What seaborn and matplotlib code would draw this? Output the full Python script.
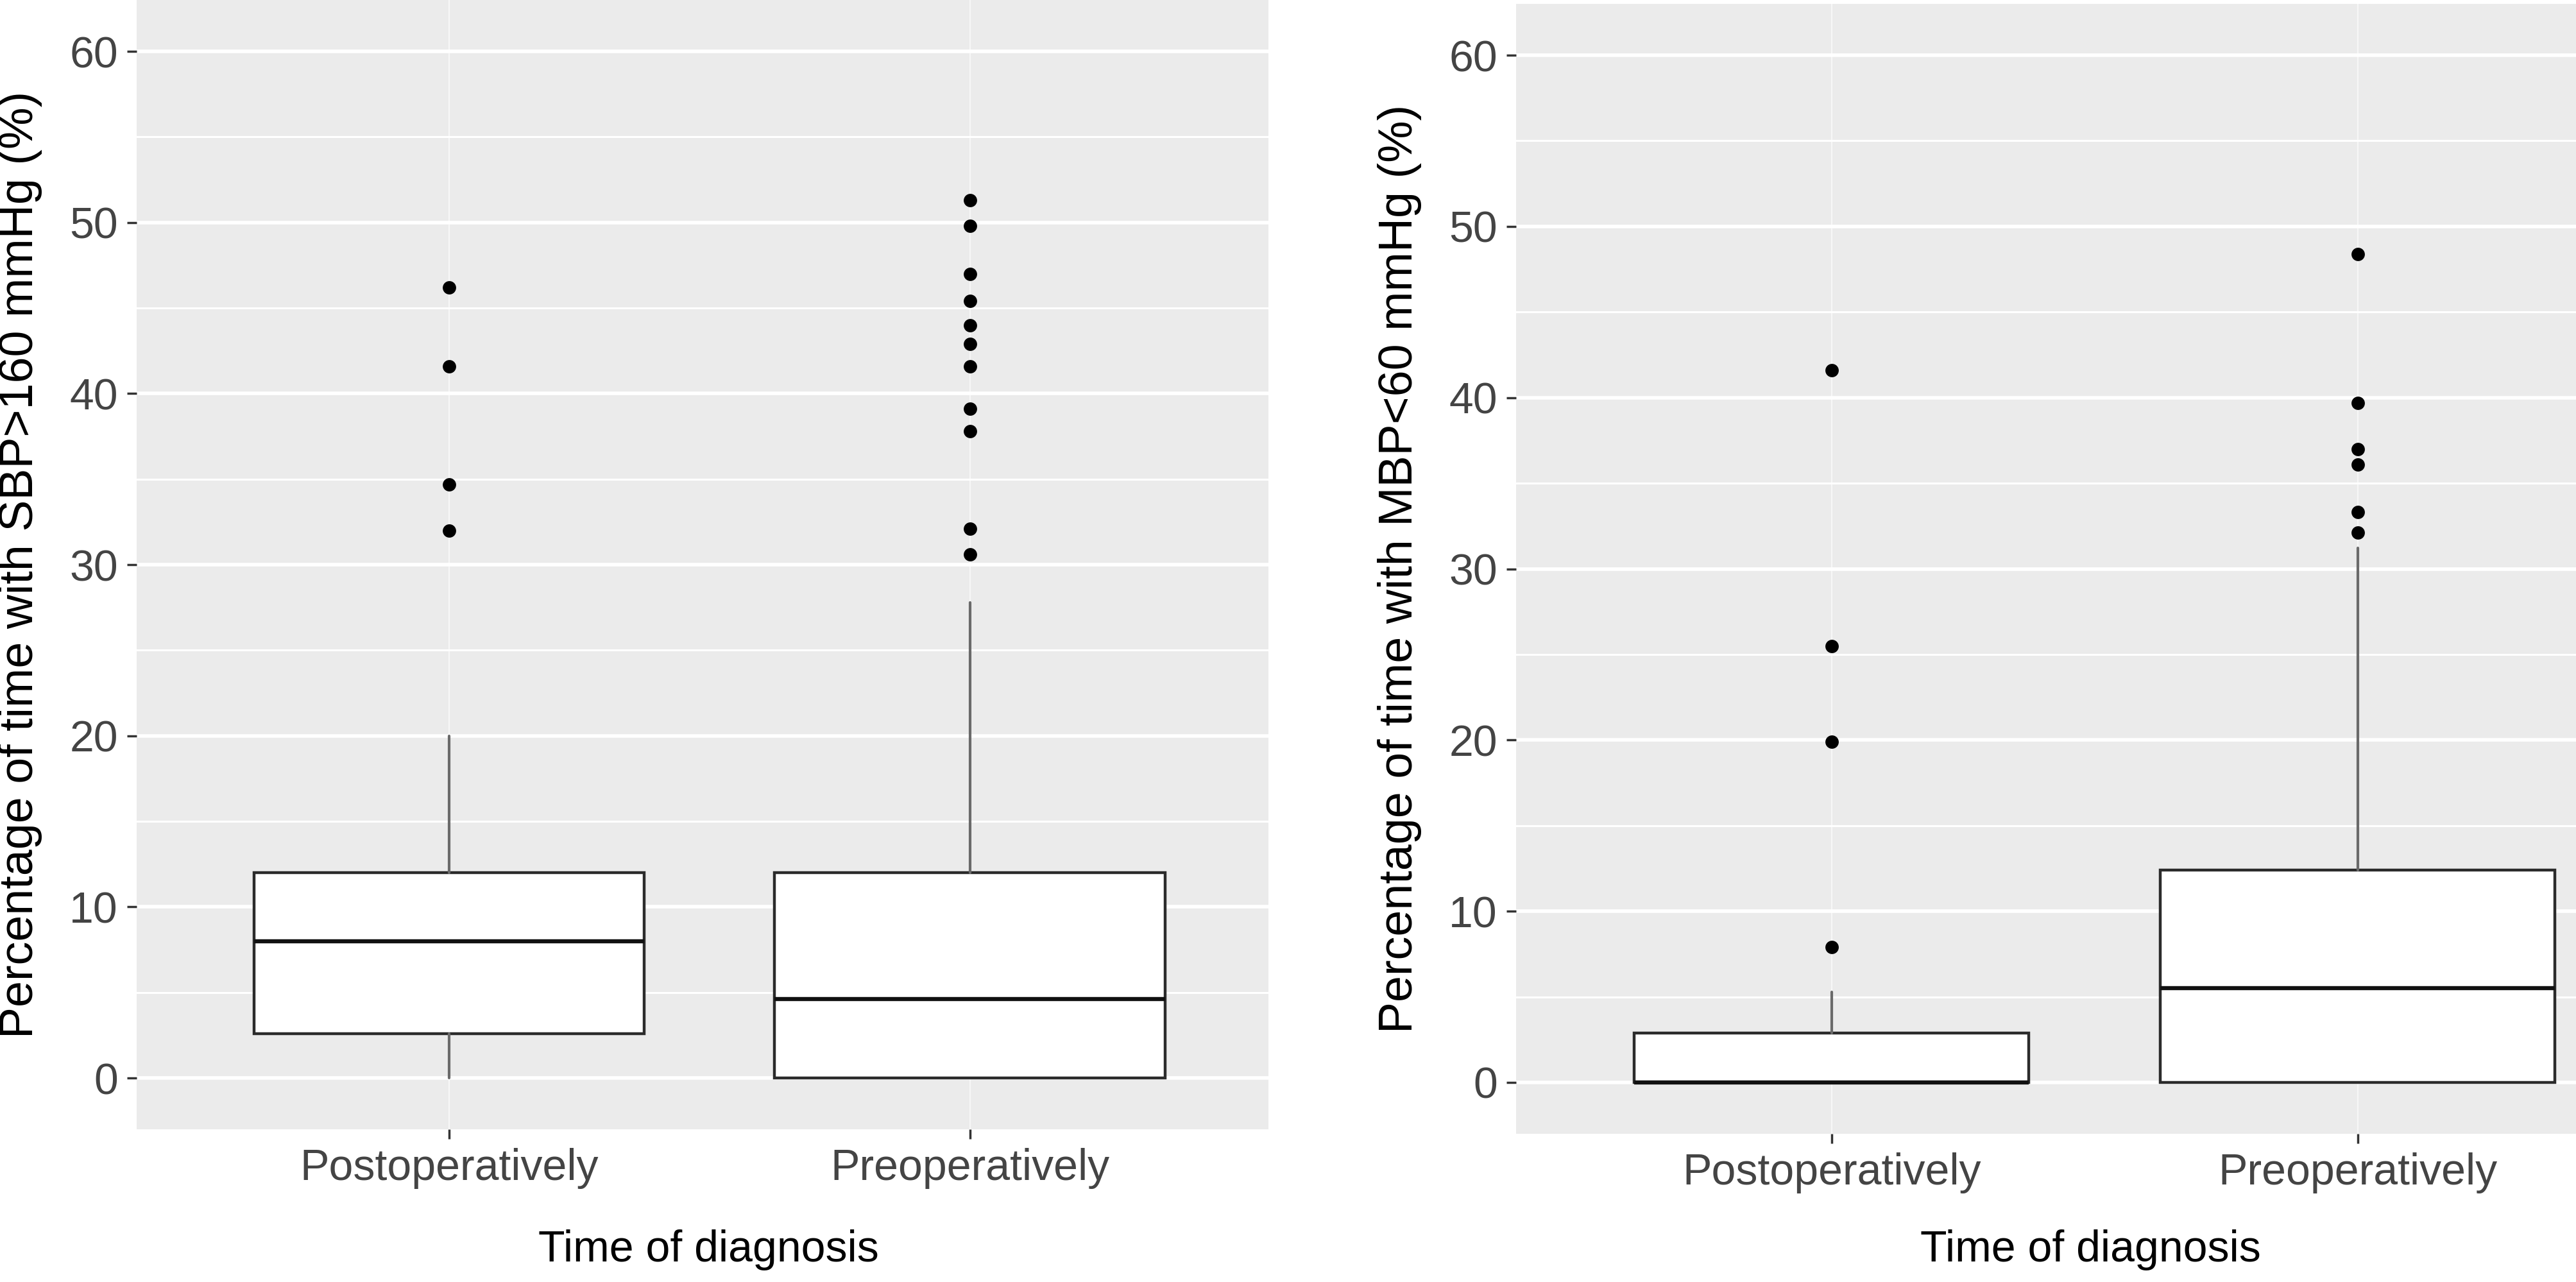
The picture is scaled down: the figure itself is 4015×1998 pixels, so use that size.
import matplotlib
matplotlib.use("Agg")
import matplotlib.pyplot as plt
from matplotlib.ticker import MultipleLocator
import seaborn as sns
import pandas as pd

# ---------------- data ----------------
categories = ["Postoperatively", "Preoperatively"]

# Panel 1: % time with SBP>160 mmHg
sbp_whislo = [0.0, 0.0]
sbp_q1 = [2.6, 0.0]
sbp_med = [8.0, 4.6]
sbp_q3 = [12.0, 12.0]
sbp_whishi = [20.0, 27.8]
sbp_out_post = [46.2, 41.6, 34.7, 32.0]
sbp_out_pre = [51.3, 49.8, 47.0, 45.4, 44.0, 42.9, 41.6, 39.1, 37.8, 32.1, 30.6]

# Panel 2: % time with MBP<60 mmHg
mbp_whislo = [0.0, 0.0]
mbp_q1 = [0.0, 0.0]
mbp_med = [0.0, 5.5]
mbp_q3 = [2.9, 12.4]
mbp_whishi = [5.3, 31.2]
mbp_out_post = [41.6, 25.5, 19.9, 7.9]
mbp_out_pre = [48.4, 39.7, 37.0, 36.1, 33.3, 32.1]

ylabel_sbp = "Percentage of time with SBP>160 mmHg (%)"
ylabel_mbp = "Percentage of time with MBP<60 mmHg (%)"
xlabel = "Time of diagnosis"

# ---------------- style ----------------
sns.set_theme(style="darkgrid")
plt.rcParams["font.family"] = ["Liberation Sans", "DejaVu Sans"]

W, H = 4016, 1998
fig = plt.figure(figsize=(W / 100, H / 100), dpi=100)
fig.patch.set_facecolor("white")

axL = fig.add_axes([213 / W, 1 - 1760 / H, (1977 - 213) / W, 1760 / H])
axR = fig.add_axes([2363 / W, 1 - 1767 / H, (W - 2363) / W, (1767 - 6) / H])


def draw_panel(ax, whislo, q1, med, q3, whishi, out_post, out_pre, ylab, xlim_right,
               ylab_x, xlab_x, xlab_y):
    ax.set_facecolor("#EBEBEB")
    ax.set_axisbelow(True)

    # outliers via seaborn
    df = pd.DataFrame({
        "group": [categories[0]] * len(out_post) + [categories[1]] * len(out_pre),
        "value": list(out_post) + list(out_pre),
    })
    sns.stripplot(data=df, x="group", y="value", order=categories, jitter=False,
                  color="black", size=15, linewidth=0, ax=ax, zorder=4)

    stats = []
    for i, c in enumerate(categories):
        stats.append(dict(label=c, whislo=whislo[i], q1=q1[i], med=med[i],
                          q3=q3[i], whishi=whishi[i], fliers=[]))
    ax.bxp(stats, positions=[0, 1], widths=0.75, showcaps=False, showfliers=False,
           patch_artist=True,
           boxprops=dict(facecolor="white", edgecolor="#2b2b2b", linewidth=3.2),
           whiskerprops=dict(color="#6a6a6a", linewidth=3.0),
           medianprops=dict(color="#111111", linewidth=4.6, solid_capstyle="butt"),
           manage_ticks=False, zorder=3)

    ax.set_xlim(-0.6, xlim_right)
    ax.set_ylim(-3, 63)
    ax.set_xticks([0, 1])
    ax.set_xticklabels(categories)
    ax.yaxis.set_major_locator(MultipleLocator(10))
    ax.yaxis.set_minor_locator(MultipleLocator(5))

    ax.grid(True, which="major", axis="y", color="white", linewidth=4.0)
    ax.grid(True, which="minor", axis="y", color="white", linewidth=2.2)
    ax.grid(True, which="major", axis="x", color="#F7F7F7", linewidth=1.5)
    for s in ax.spines.values():
        s.set_visible(False)

    ax.tick_params(axis="both", which="major", length=11, width=2.5, color="#333333",
                   labelsize=49, labelcolor="#444444", pad=10, bottom=True, left=True)
    ax.tick_params(axis="y", which="minor", length=0)

    ax.set_ylabel(ylab, fontsize=53, color="black", va="center")
    ax.yaxis.set_label_coords(ylab_x, 0.5)
    ax.set_xlabel(xlabel, fontsize=49, color="black", va="center")
    ax.xaxis.set_label_coords(xlab_x, xlab_y)


draw_panel(axL, sbp_whislo, sbp_q1, sbp_med, sbp_q3, sbp_whishi,
           sbp_out_post, sbp_out_pre, ylabel_sbp, 1.573,
           (32 - 213) / 1764, (1104 - 213) / 1764, (1760 - 1948) / 1760)
draw_panel(axR, mbp_whislo, mbp_q1, mbp_med, mbp_q3, mbp_whishi,
           mbp_out_post, mbp_out_pre, ylabel_mbp, 1.416,
           (2182 - 2363) / 1653, (3258 - 2363) / 1653, (1767 - 1948) / 1761)

fig.savefig("out.png", dpi=100, facecolor="white")
